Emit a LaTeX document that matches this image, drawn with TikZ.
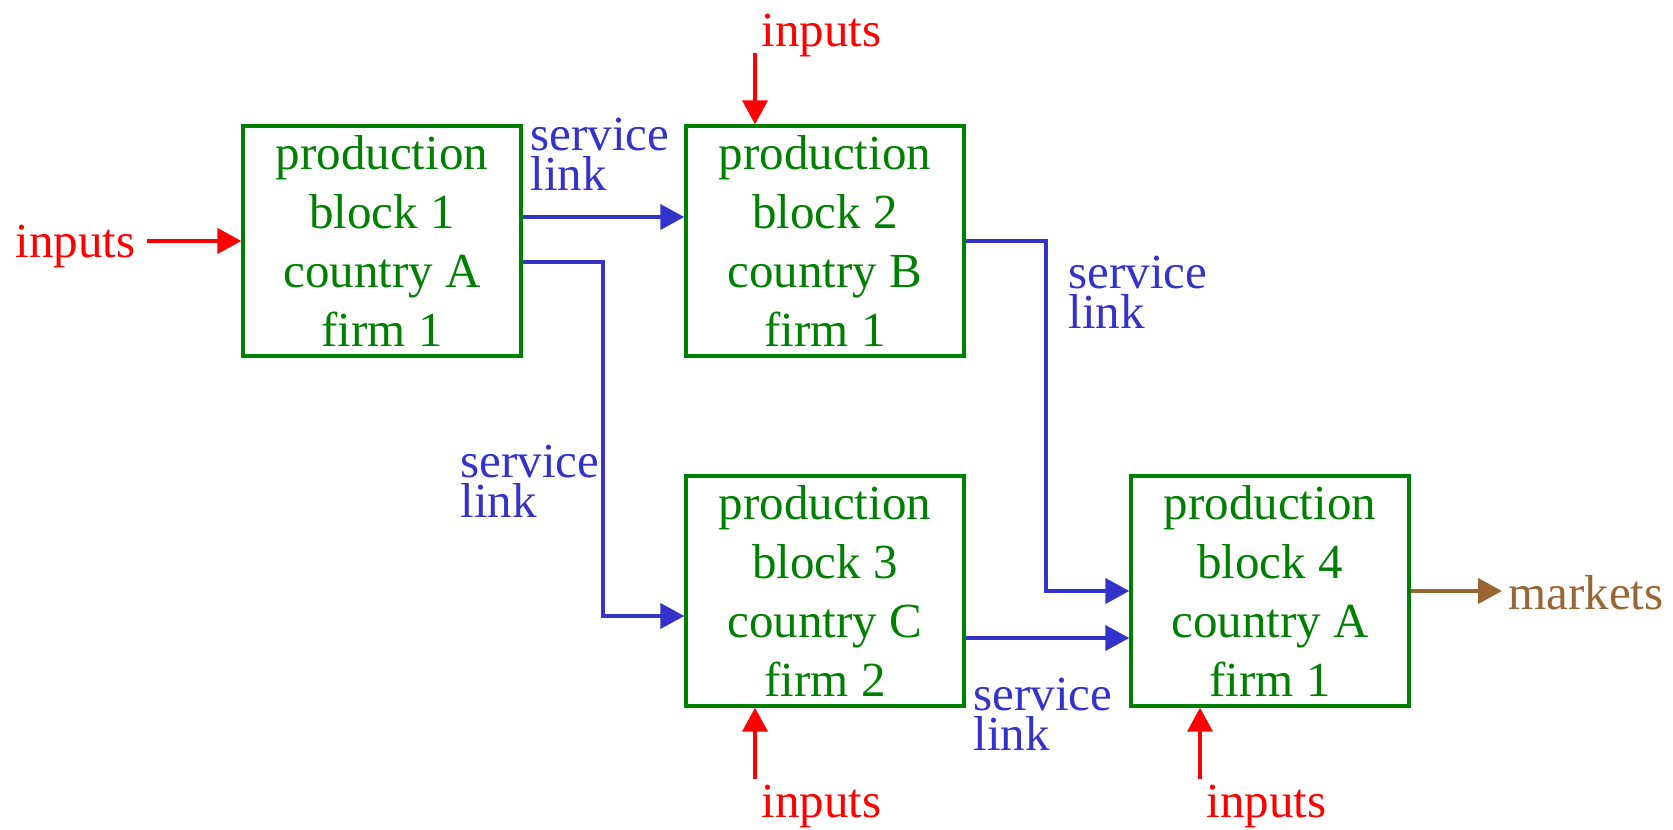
\documentclass[tikz,border=0pt]{standalone}
\usepackage{fontspec}
\setmainfont{Liberation Serif}
\usetikzlibrary{arrows.meta}
\definecolor{dgreen}{RGB}{0,128,0}
\definecolor{lblue}{RGB}{51,51,204}
\definecolor{lred}{RGB}{255,0,0}
\definecolor{lbrown}{RGB}{153,102,51}
\begin{document}
\begin{tikzpicture}[x=0.5pt,y=-0.5pt,
 blk/.style={draw=dgreen, line width=1.7pt, text=dgreen, minimum width=139pt, minimum height=115pt, align=center, font=\fontsize{24.5}{29.35}\selectfont, inner sep=0pt},
 svc/.style={text=lblue, align=left, anchor=west, inner sep=0pt, font=\fontsize{24.5}{20}\selectfont},
 inlbl/.style={text=lred, inner sep=0pt, anchor=west, font=\fontsize{24.5}{29}\selectfont},
 mklbl/.style={text=lbrown, inner sep=0pt, anchor=west, font=\fontsize{24.5}{29}\selectfont},
 tip/.style={-{Triangle[length=12pt,width=12.5pt]}},
 svarr/.style={draw=lblue, line width=2pt, tip},
 inarr/.style={draw=lred, line width=2pt, tip},
 mkarr/.style={draw=lbrown, line width=2pt, tip}]
\useasboundingbox (0,0) rectangle (1673,829);

\node[blk] (b1) at (382,241) {production\\block 1\\country A\\firm 1};
\node[blk] (b2) at (825,241) {production\\block 2\\country B\\firm 1};
\node[blk] (b3) at (825,591) {production\\block 3\\country C\\firm 2};
\node[blk] (b4) at (1270,591) {production\\block 4\\country A\\firm 1};

% service links
\draw[svarr] ([yshift=12pt]b1.east) -- ([yshift=12pt]b2.west);
\draw[svarr] ([yshift=-10.5pt]b1.east) -| ([xshift=-40.5pt,yshift=-12.5pt]b3.west) -- ([yshift=-12.5pt]b3.west);
\draw[svarr] (b2.east) -| ([xshift=-41.5pt]b4.west) -- (b4.west);
\draw[svarr] ([yshift=-23.5pt]b3.east) -- ([yshift=-23.5pt]b4.west);

\node[svc] (l1) at (530,154) {service\\link};
\node[svc] (l2) at (1068,292) {service\\link};
\node[svc] (l3) at (460,481) {service\\link};
\node[svc] (l4) at (973,714) {service\\link};

% inputs
\node[inlbl] (in1) at (15,246) {inputs};
\coordinate (s1) at (147,241);
\draw[inarr] (s1) -- (b1.west);

\node[inlbl] (in2) at (761,35) {inputs};
\coordinate (s2) at (755,53);
\draw[inarr] (s2) -- (s2 |- b2.north);

\node[inlbl] (in3) at (761,806) {inputs};
\coordinate (s3) at (755,779);
\draw[inarr] (s3) -- (s3 |- b3.south);

\node[inlbl] (in4) at (1206,806) {inputs};
\coordinate (s4) at (1200,779);
\draw[inarr] (s4) -- (s4 |- b4.south);

% markets
\node[mklbl] (mk) at (1508,593) {markets};
\draw[mkarr] (b4.east) -- ([xshift=-3pt]b4.east -| mk.west);
\end{tikzpicture}
\end{document}
